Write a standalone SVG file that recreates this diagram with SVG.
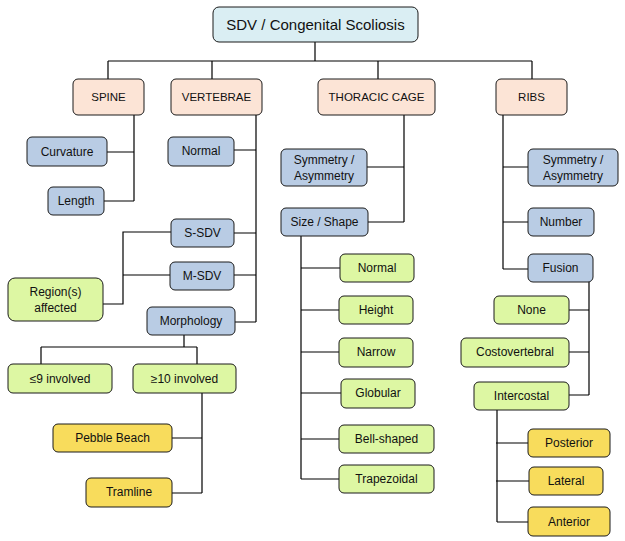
<svg xmlns="http://www.w3.org/2000/svg" width="625" height="541" viewBox="0 0 625 541">
<style>
.n rect{stroke:#1a1a1a;stroke-width:1}
.root{fill:#DAEEF3}
.l1{fill:#FCE4D6}
.bl{fill:#B9CCE4}
.gr{fill:#DDF7A3}
.ye{fill:#F8DC5C}
text{font-family:"Liberation Sans",Arial,sans-serif;font-size:12px;fill:#111;text-anchor:middle}
.t0{font-size:15px}
.t1{font-size:11.5px}
#connectors path{fill:none;stroke:#000;stroke-width:1.2}
</style>
<rect width="625" height="541" fill="#fff"/>
<g id="connectors">
<path d="M315,42V61M108,61H532M108,61V79M212,61V79M378,61V79M532,61V79"/>
<path d="M134,115V201M107,152H134M104,201H134"/>
<path d="M256,115V322M234,150H256M234,233H256M234,275H256M235,322H256"/>
<path d="M103,304H123V232H171M123,275H170"/>
<path d="M184,335V347M41,347H197M41,347V364M197,347V364"/>
<path d="M202,393V493M172,438H202M172,493H202"/>
<path d="M404,115V222M367,167H404M368,222H404"/>
<path d="M301,236V479M301,268H340M301,310H339M301,352H339M301,393H341M301,439H339M301,479H339"/>
<path d="M503,115V269M503,167H528M503,222H528M503,269H528"/>
<path d="M589,282V395M569,310H589M569,352H589M569,395H589"/>
<path d="M497,410V522M496,443H528M496,481H529M497,522H528"/>
</g>
<g class="n" id="root"><rect class="root" x="213" y="7" width="205" height="35" rx="6"/><text class="t0" x="315.5" y="30">SDV / Congenital Scoliosis</text></g>
<g class="n" id="spine"><rect class="l1" x="73" y="79" width="71" height="36" rx="5"/><text class="t1" x="108.5" y="101">SPINE</text></g>
<g class="n" id="vertebrae"><rect class="l1" x="171" y="79" width="91" height="36" rx="5"/><text class="t1" x="216.5" y="101">VERTEBRAE</text></g>
<g class="n" id="thoracic"><rect class="l1" x="318" y="79" width="117" height="36" rx="5"/><text class="t1" x="376.5" y="101">THORACIC CAGE</text></g>
<g class="n" id="ribs"><rect class="l1" x="496" y="79" width="71" height="36" rx="5"/><text class="t1" x="531.5" y="101">RIBS</text></g>
<g class="n" id="curvature"><rect class="bl" x="27" y="137" width="80" height="29" rx="5"/><text x="67" y="156">Curvature</text></g>
<g class="n" id="length"><rect class="bl" x="48" y="187" width="56" height="28" rx="5"/><text x="76" y="205">Length</text></g>
<g class="n" id="v-normal"><rect class="bl" x="168" y="137" width="66" height="29" rx="5"/><text x="201" y="155">Normal</text></g>
<g class="n" id="ssdv"><rect class="bl" x="171" y="219" width="63" height="28" rx="5"/><text x="202.5" y="237">S-SDV</text></g>
<g class="n" id="msdv"><rect class="bl" x="170" y="262" width="64" height="28" rx="5"/><text x="202" y="280">M-SDV</text></g>
<g class="n" id="morphology"><rect class="bl" x="147" y="307" width="88" height="28" rx="5"/><text x="191" y="325">Morphology</text></g>
<g class="n" id="region"><rect class="gr" x="8" y="278" width="95" height="43" rx="7"/><text x="55.5" y="296">Region(s)</text><text x="55.5" y="312">affected</text></g>
<g class="n" id="le9"><rect class="gr" x="8" y="364" width="104" height="29" rx="5"/><text x="60" y="383">≤9 involved</text></g>
<g class="n" id="ge10"><rect class="gr" x="133" y="364" width="103" height="29" rx="5"/><text x="184.5" y="383">≥10 involved</text></g>
<g class="n" id="pebble"><rect class="ye" x="53" y="424" width="119" height="28" rx="5"/><text x="112.5" y="442">Pebble Beach</text></g>
<g class="n" id="tramline"><rect class="ye" x="86" y="478" width="86" height="29" rx="5"/><text x="129" y="496">Tramline</text></g>
<g class="n" id="tc-sym"><rect class="bl" x="281" y="149" width="86" height="37" rx="5"/><text x="324" y="164">Symmetry /</text><text x="324" y="180">Asymmetry</text></g>
<g class="n" id="size"><rect class="bl" x="281" y="208" width="87" height="28" rx="5"/><text x="324.5" y="226">Size / Shape</text></g>
<g class="n" id="tc-normal"><rect class="gr" x="340" y="254" width="74" height="28" rx="5"/><text x="377" y="272">Normal</text></g>
<g class="n" id="height"><rect class="gr" x="339" y="296" width="74" height="28" rx="5"/><text x="376" y="314">Height</text></g>
<g class="n" id="narrow"><rect class="gr" x="339" y="338" width="74" height="29" rx="5"/><text x="376" y="356">Narrow</text></g>
<g class="n" id="globular"><rect class="gr" x="341" y="379" width="74" height="29" rx="5"/><text x="378" y="397">Globular</text></g>
<g class="n" id="bell"><rect class="gr" x="339" y="425" width="95" height="28" rx="5"/><text x="386.5" y="443">Bell-shaped</text></g>
<g class="n" id="trapezoidal"><rect class="gr" x="339" y="465" width="95" height="28" rx="5"/><text x="386.5" y="483">Trapezoidal</text></g>
<g class="n" id="r-sym"><rect class="bl" x="528" y="149" width="90" height="37" rx="5"/><text x="573" y="164">Symmetry /</text><text x="573" y="180">Asymmetry</text></g>
<g class="n" id="number"><rect class="bl" x="528" y="208" width="66" height="28" rx="5"/><text x="561" y="226">Number</text></g>
<g class="n" id="fusion"><rect class="bl" x="528" y="254" width="65" height="28" rx="5"/><text x="560.5" y="272">Fusion</text></g>
<g class="n" id="none"><rect class="gr" x="494" y="296" width="75" height="28" rx="5"/><text x="531.5" y="314">None</text></g>
<g class="n" id="costo"><rect class="gr" x="461" y="338" width="108" height="29" rx="5"/><text x="515" y="356">Costovertebral</text></g>
<g class="n" id="intercostal"><rect class="gr" x="474" y="382" width="95" height="28" rx="5"/><text x="521.5" y="400">Intercostal</text></g>
<g class="n" id="posterior"><rect class="ye" x="528" y="429" width="82" height="28" rx="5"/><text x="569" y="447">Posterior</text></g>
<g class="n" id="lateral"><rect class="ye" x="529" y="467" width="74" height="28" rx="5"/><text x="566" y="485">Lateral</text></g>
<g class="n" id="anterior"><rect class="ye" x="528" y="507" width="82" height="29" rx="5"/><text x="569" y="526">Anterior</text></g>
</svg>
